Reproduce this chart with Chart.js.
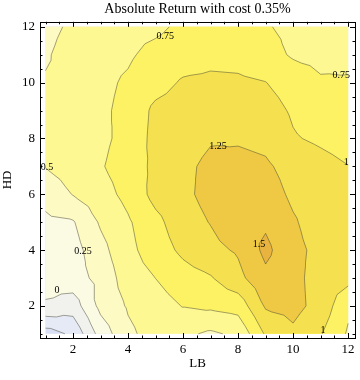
<!DOCTYPE html>
<html lang="en">
<head>
    <meta charset="UTF-8">
    <title>Absolute Return with cost 0.35%</title>
    <script src="https://cdn.jsdelivr.net/npm/chart.js@4.4.1/dist/chart.umd.min.js"></script>
    <style>
        html, body { margin: 0; padding: 0; background: #fff; }
        #contourChart { display: block; }
    </style>
</head>
<body>
<canvas id="contourChart" width="360" height="380"></canvas>

<script>
    // grid axes
    var lbValues = [1, 2, 3, 4, 5, 6, 7, 8, 9, 10, 11, 12];
    var hdValues = [1, 2, 3, 4, 5, 6, 7, 8, 9, 10, 11, 12];

    // absolute return, one row per HD value (HD = 1 first), columns follow lbValues
    var hd1  = [-0.62, -0.45, 0.10, 0.45, 0.60, 0.55, 0.46, 0.55, 1.03, 1.20, 1.02, 0.72];
    var hd2  = [-0.03, -0.13, 0.32, 0.525, 0.64, 0.76, 0.80, 0.85, 1.28, 1.33, 1.16, 0.80];
    var hd3  = [0.10, 0.15, 0.32, 0.63, 0.752, 0.90, 0.98, 1.18, 1.44, 1.32, 1.15, 1.08];
    var hd4  = [0.12, 0.15, 0.42, 0.68, 0.88, 1.05, 1.18, 1.28, 1.56, 1.32, 1.18, 1.12];
    var hd5  = [0.20, 0.23, 0.53, 0.72, 0.93, 1.15, 1.26, 1.42, 1.46, 1.28, 1.12, 1.10];
    var hd6  = [0.33, 0.51, 0.65, 0.82, 1.08, 1.20, 1.32, 1.40, 1.38, 1.20, 1.10, 1.08];
    var hd7  = [0.51, 0.62, 0.73, 0.86, 1.06, 1.20, 1.30, 1.33, 1.29, 1.15, 1.08, 1.005];
    var hd8  = [0.56, 0.63, 0.70, 0.82, 1.08, 1.15, 1.23, 1.22, 1.18, 1.02, 0.96, 0.90];
    var hd9  = [0.55, 0.62, 0.71, 0.81, 1.06, 1.12, 1.15, 1.15, 1.10, 0.97, 0.88, 0.85];
    var hd10 = [0.53, 0.60, 0.70, 0.78, 0.90, 1.03, 1.05, 1.04, 1.005, 0.90, 0.78, 0.77];
    var hd11 = [0.46, 0.65, 0.68, 0.72, 0.82, 0.88, 0.93, 0.92, 0.85, 0.72, 0.68, 0.70];
    var hd12 = [0.40, 0.56, 0.62, 0.68, 0.70, 0.80, 0.82, 0.82, 0.77, 0.69, 0.66, 0.65];
    var returnGrid = [hd1, hd2, hd3, hd4, hd5, hd6, hd7, hd8, hd9, hd10, hd11, hd12];

    var contourLevels = [-0.5, -0.25, 0, 0.25, 0.5, 0.75, 1, 1.25, 1.5];
    var xTickValues = [2, 4, 6, 8, 10, 12];
    var yTickValues = [2, 4, 6, 8, 10, 12];

    // contour labels as Mathematica placed them
    var labelTexts = ['0.75', '0.75', '1.25', '1', '1.5', '0.5', '0.25', '0', '1'];
    var labelLB    = [5.35, 11.75, 7.27, 11.93, 8.76, 1.05, 2.36, 1.42, 11.09];
    var labelHD    = [11.64, 10.25, 7.71, 7.14, 4.21, 6.96, 3.96, 2.54, 1.14];

    // fill colours, lowest band first (below -0.5 ... above 1.5)
    var bandColors = ['#d9e0f5', '#e5eaf6', '#f1f2ee', '#fbfae3', '#fdfac3',
                      '#fdf891', '#fcf264', '#f5e150', '#efc944', '#e8b33e'];

    var serif = '"Liberation Serif", "DejaVu Serif", serif';

    // keep the part of a polygon where z >= lvl
    function clipAbove(poly, lvl) {
        var out = [];
        for (var k = 0; k < poly.length; k++) {
            var P = poly[k], Q = poly[(k + 1) % poly.length];
            var pin = P[2] >= lvl, qin = Q[2] >= lvl;
            if (pin) out.push(P);
            if (pin !== qin) {
                var t = (lvl - P[2]) / (Q[2] - P[2]);
                out.push([P[0] + t * (Q[0] - P[0]), P[1] + t * (Q[1] - P[1]), lvl]);
            }
        }
        return out;
    }

    function buildTriangles(x, y) {
        var tris = [];
        function pt(i, j) {
            return [x.getPixelForValue(lbValues[i]), y.getPixelForValue(hdValues[j]), returnGrid[j][i]];
        }
        for (var j = 0; j < hdValues.length - 1; j++) {
            for (var i = 0; i < lbValues.length - 1; i++) {
                var A = pt(i, j), B = pt(i + 1, j), C = pt(i + 1, j + 1), D = pt(i, j + 1);
                var M = [(A[0] + C[0]) / 2, (A[1] + C[1]) / 2, (A[2] + B[2] + C[2] + D[2]) / 4];
                tris.push([A, B, M], [B, C, M], [C, D, M], [D, A, M]);
            }
        }
        return tris;
    }

    var contourPlugin = {
        id: 'contours',
        beforeDatasetsDraw: function(chart) {
            var ctx = chart.ctx, x = chart.scales.x, y = chart.scales.y;
            var tris = buildTriangles(x, y);
            ctx.save();

            // filled bands: paint each "z >= level" region over the previous one
            for (var b = 0; b < bandColors.length; b++) {
                ctx.beginPath();
                tris.forEach(function(tri) {
                    var poly = b === 0 ? tri : clipAbove(tri, contourLevels[b - 1]);
                    if (poly.length < 3) return;
                    ctx.moveTo(poly[0][0], poly[0][1]);
                    for (var k = 1; k < poly.length; k++) ctx.lineTo(poly[k][0], poly[k][1]);
                    ctx.closePath();
                });
                ctx.fillStyle = bandColors[b];
                ctx.fill();
            }

            // contour lines
            ctx.strokeStyle = 'rgba(70, 70, 50, 0.55)';
            ctx.lineWidth = 0.9;
            ctx.lineJoin = 'round';
            contourLevels.forEach(function(lvl) {
                ctx.beginPath();
                tris.forEach(function(tri) {
                    var hits = [];
                    for (var k = 0; k < 3; k++) {
                        var P = tri[k], Q = tri[(k + 1) % 3];
                        if ((P[2] >= lvl) !== (Q[2] >= lvl)) {
                            var t = (lvl - P[2]) / (Q[2] - P[2]);
                            hits.push([P[0] + t * (Q[0] - P[0]), P[1] + t * (Q[1] - P[1])]);
                        }
                    }
                    if (hits.length === 2) {
                        ctx.moveTo(hits[0][0], hits[0][1]);
                        ctx.lineTo(hits[1][0], hits[1][1]);
                    }
                });
                ctx.stroke();
            });

            // contour labels
            ctx.fillStyle = '#000';
            ctx.font = '10px ' + serif;
            ctx.textAlign = 'center';
            ctx.textBaseline = 'middle';
            for (var n = 0; n < labelTexts.length; n++) {
                ctx.fillText(labelTexts[n], x.getPixelForValue(labelLB[n]), y.getPixelForValue(labelHD[n]));
            }
            ctx.restore();
        },
        afterDraw: function(chart) {
            var ctx = chart.ctx, a = chart.chartArea, x = chart.scales.x, y = chart.scales.y;
            ctx.save();
            ctx.strokeStyle = '#000';
            ctx.lineWidth = 1;
            ctx.strokeRect(Math.round(a.left) + 0.5, Math.round(a.top) + 0.5,
                Math.round(a.right - a.left), Math.round(a.bottom - a.top));

            // inward frame ticks, major every 2, minor every 0.5
            ctx.beginPath();
            for (var v = 1; v <= 12; v += 0.5) {
                var len = xTickValues.indexOf(v) >= 0 ? 5 : 2.5;
                var px = Math.round(x.getPixelForValue(v)) + 0.5;
                ctx.moveTo(px, a.bottom); ctx.lineTo(px, a.bottom - len);
                ctx.moveTo(px, a.top); ctx.lineTo(px, a.top + len);
                var lenY = yTickValues.indexOf(v) >= 0 ? 5 : 2.5;
                var py = Math.round(y.getPixelForValue(v)) + 0.5;
                ctx.moveTo(a.left, py); ctx.lineTo(a.left + lenY, py);
                ctx.moveTo(a.right, py); ctx.lineTo(a.right - lenY, py);
            }
            ctx.stroke();
            ctx.restore();
        }
    };

    var points = [];
    hdValues.forEach(function(hd, j) {
        lbValues.forEach(function(lb, i) {
            points.push({ x: lb, y: hd, v: returnGrid[j][i] });
        });
    });

    var ctx = document.getElementById('contourChart').getContext('2d');
    var chart = new Chart(ctx, {
        type: 'scatter',
        data: {
            datasets: [{
                data: points,
                pointRadius: 0,
                showLine: false
            }]
        },
        options: {
            responsive: false,
            animation: false,
            layout: { padding: { top: 0, right: 5, left: 0, bottom: 0 } },
            plugins: {
                legend: { display: false },
                tooltip: { enabled: false },
                title: {
                    display: true,
                    fullSize: false,
                    text: 'Absolute Return with cost 0.35%',
                    color: '#000',
                    font: { family: serif, size: 14, weight: 'normal' },
                    padding: { top: 1, bottom: 4 }
                }
            },
            scales: {
                x: {
                    type: 'linear',
                    min: 0.8,
                    max: 12.25,
                    afterBuildTicks: function(s) { s.ticks = xTickValues.map(function(v) { return { value: v }; }); },
                    afterFit: function(s) { s.height = 42; },
                    grid: { display: false, drawTicks: false },
                    border: { display: false },
                    ticks: { color: '#000', font: { family: serif, size: 13 }, padding: 4, maxRotation: 0 },
                    title: { display: true, text: 'LB', color: '#000', font: { family: serif, size: 13 }, padding: { top: 0, bottom: 9 } }
                },
                y: {
                    type: 'linear',
                    min: 0.85,
                    max: 12.18,
                    afterBuildTicks: function(s) { s.ticks = yTickValues.map(function(v) { return { value: v }; }); },
                    afterFit: function(s) { s.width = 40; },
                    grid: { display: false, drawTicks: false },
                    border: { display: false },
                    ticks: { color: '#000', font: { family: serif, size: 13 }, padding: 5 },
                    title: { display: true, text: 'HD', color: '#000', font: { family: serif, size: 13 }, padding: { top: 0, bottom: 0 } }
                }
            }
        },
        plugins: [contourPlugin]
    });
</script>
</body>
</html>
